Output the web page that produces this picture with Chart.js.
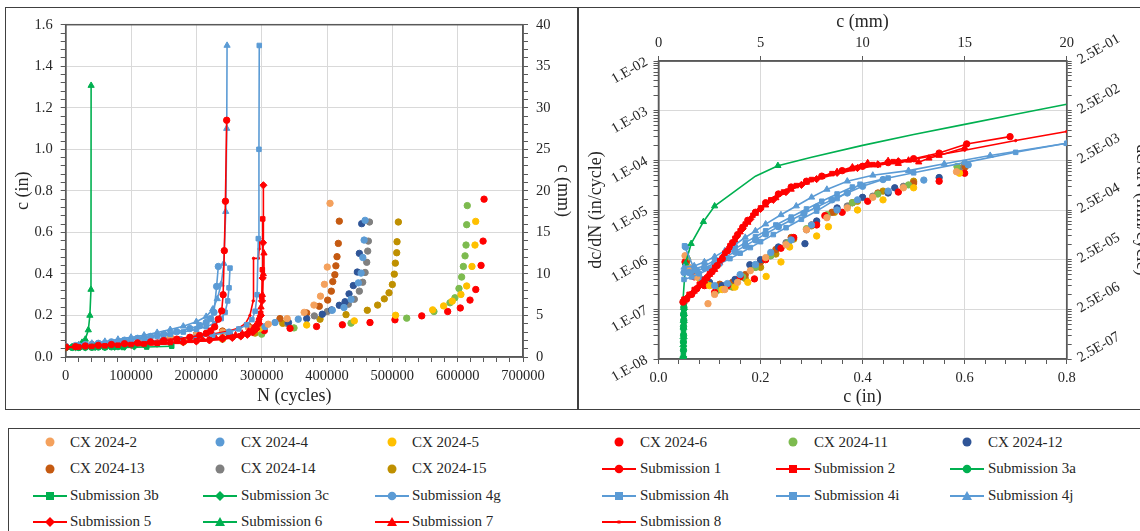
<!DOCTYPE html>
<html><head><meta charset="utf-8">
<script src="https://cdn.jsdelivr.net/npm/chart.js@4.4.1/dist/chart.umd.min.js"></script>
<style>
html,body{margin:0;padding:0;background:#fff;width:1140px;height:531px;overflow:hidden;position:relative;font-family:'Liberation Serif',serif;}
.frame{position:absolute;border:1.5px solid #404040;box-sizing:border-box;}
#leftWrap{position:absolute;left:6px;top:8px;width:571px;height:400px;}
#rightWrap{position:absolute;left:579px;top:8px;width:600px;height:400px;}
.legTxt{position:absolute;font:15px 'Liberation Serif',serif;line-height:16px;color:#262626;white-space:nowrap;}
.legMk{position:absolute;}
</style></head>
<body>
<div class="frame" style="left:5px;top:7px;width:574px;height:403px;"></div>
<div class="frame" style="left:577px;top:7px;width:700px;height:403px;"></div>
<div class="frame" style="left:8px;top:428px;width:1200px;height:200px;"></div>
<div id="leftWrap"><canvas id="left" width="571" height="400"></canvas></div>
<div id="rightWrap"><canvas id="right" width="600" height="400"></canvas></div>
<div id="legend"></div>
<script>
// ================= LEFT CHART DATA: c (in) vs N (cycles) =================
const N_cx2  = [0,40000,80000,120000,160000,200000,240000,280000,310000,339000,365000,380000,390000,396000,400400,404600];
const c_cx2  = [0.05,0.058,0.068,0.08,0.093,0.105,0.12,0.14,0.158,0.185,0.215,0.25,0.293,0.35,0.433,0.74];
const N_cx4  = [0,50000,100000,150000,200000,250000,305000,320400,356000,408100,426000,436800,448000,452200,454800,456800,458300];
const c_cx4  = [0.05,0.06,0.072,0.085,0.1,0.12,0.146,0.166,0.182,0.225,0.238,0.278,0.357,0.404,0.479,0.563,0.658];
const N_cx5  = [0,60000,120000,180000,240000,297000,368900,441800,505000,561700,578500,591700,605000,613800,621900,626500,627600];
const c_cx5  = [0.05,0.056,0.064,0.074,0.088,0.138,0.154,0.174,0.201,0.227,0.246,0.269,0.301,0.342,0.436,0.539,0.653];
const N_cx6  = [0,60000,120000,180000,240000,304000,343400,384000,423500,465800,504000,545000,584700,604000,618900,627700,635800,638900,640400];
const c_cx6  = [0.05,0.056,0.064,0.074,0.09,0.127,0.138,0.147,0.155,0.166,0.179,0.198,0.219,0.236,0.274,0.325,0.441,0.558,0.76];
const N_cx11 = [0,60000,120000,180000,240000,300000,349500,436800,522000,563700,588200,595800,602000,606100,608700,611300,612800,613800,614700];
const c_cx11 = [0.05,0.055,0.062,0.072,0.086,0.11,0.14,0.163,0.187,0.219,0.261,0.285,0.33,0.385,0.436,0.487,0.539,0.637,0.729];
const N_cx12 = [0,50000,100000,150000,200000,250000,300000,341000,368900,392800,407100,418800,427600,433700,440300,446400,449500,453100];
const c_cx12 = [0.05,0.06,0.07,0.082,0.097,0.115,0.14,0.166,0.185,0.206,0.227,0.249,0.266,0.304,0.344,0.409,0.499,0.642];
const N_cx13 = [0,40000,80000,120000,160000,200000,240000,280000,328000,368900,388200,401000,406600,408800,412000,413600,415300,417300,418800];
const c_cx13 = [0.05,0.06,0.07,0.082,0.095,0.108,0.125,0.148,0.185,0.212,0.244,0.274,0.317,0.363,0.396,0.439,0.483,0.547,0.654];
const N_cx14 = [0,50000,100000,150000,200000,250000,300000,340000,380600,400500,432600,441800,449500,454600,458300,460800,462300,463300,465000];
const c_cx14 = [0.05,0.058,0.068,0.08,0.094,0.11,0.135,0.16,0.198,0.219,0.254,0.278,0.317,0.36,0.407,0.456,0.51,0.558,0.65];
const N_cx15 = [0,60000,120000,180000,240000,290000,332200,389300,429100,461700,477500,487700,494900,500000,503000,504600,506700,507200,509200];
const c_cx15 = [0.05,0.057,0.066,0.077,0.092,0.115,0.162,0.182,0.204,0.225,0.25,0.28,0.309,0.349,0.399,0.452,0.502,0.555,0.65];

const N_s1  = [0,15000,30000,50000,70000,90000,110000,130000,150000,170000,190000,205000,215000,222000,228000,233600,238800,241000,242800,244500,246400];
const c_s1  = [0.048,0.05,0.053,0.056,0.06,0.064,0.068,0.073,0.079,0.086,0.095,0.104,0.114,0.126,0.145,0.182,0.222,0.3,0.512,0.75,1.14];
const N_s2  = [0,20000,40000,60000,80000,100000,120000,140000,160000,180000,200000,220000,240000,255000,268000,278000,286000,292000,296000,298500,300200,301000,301600];
const c_s2  = [0.045,0.048,0.051,0.054,0.057,0.06,0.063,0.066,0.07,0.074,0.078,0.083,0.089,0.095,0.102,0.11,0.122,0.14,0.17,0.21,0.29,0.42,0.665];
const N_s3a = [0,10000,20000,30000,40000,50000,60000,70000,80000];
const c_s3a = [0.045,0.046,0.046,0.047,0.047,0.048,0.048,0.049,0.05];
const N_s3b = [0,20000,40000,60000,88000,124000,162300];
const c_s3b = [0.045,0.045,0.046,0.046,0.046,0.048,0.052];
const N_s3c = [0,15000,30000,45000,60000,75000,90000,105000];
const c_s3c = [0.046,0.047,0.047,0.048,0.048,0.049,0.05,0.051];
const N_s4g = [0,15000,30000,50000,70000,90000,110000,130000,150000,170000,190000,205000,215000,222000,227000,231000,233600];
const c_s4g = [0.05,0.055,0.06,0.066,0.073,0.081,0.09,0.099,0.11,0.122,0.137,0.152,0.166,0.185,0.215,0.34,0.436];
const N_s4h = [0,25000,50000,75000,100000,125000,150000,175000,200000,225000,250000,265000,277000,285000,290000,293000,294800,295800,296300];
const c_s4h = [0.05,0.054,0.058,0.063,0.068,0.074,0.08,0.087,0.095,0.106,0.12,0.135,0.155,0.18,0.22,0.3,0.57,1.0,1.5];
const N_s4i = [0,20000,40000,60000,80000,100000,120000,140000,160000,180000,200000,215000,228000,238000,244000,248000,250000,251500];
const c_s4i = [0.05,0.055,0.061,0.067,0.074,0.082,0.09,0.099,0.109,0.12,0.133,0.146,0.162,0.185,0.215,0.27,0.333,0.428];
const N_s4j = [0,20000,40000,60000,80000,100000,120000,140000,160000,180000,200000,215000,225000,232000,238000,242000,245000,246500,247000];
const c_s4j = [0.05,0.058,0.066,0.075,0.085,0.095,0.105,0.118,0.132,0.148,0.17,0.195,0.23,0.28,0.35,0.45,0.7,1.1,1.5];
const N_s5  = [0,20000,40000,60000,80000,100000,120000,140000,160000,180000,200000,220000,240000,255000,268000,278000,286000,292000,296000,298800,300500,301500,302100,302600];
const c_s5  = [0.045,0.047,0.049,0.052,0.055,0.058,0.061,0.064,0.067,0.071,0.075,0.08,0.086,0.092,0.099,0.107,0.118,0.135,0.16,0.2,0.27,0.38,0.55,0.827];
const N_s6  = [0,10000,20000,25000,30000,34600,37000,38700,38900];
const c_s6  = [0.045,0.05,0.058,0.07,0.085,0.13,0.2,0.325,1.307];
const N_s7  = [0,10000,20000,30000,40000,50000,60000,70000,80000,90000,100000,110000,120000,130000,140000,150000,160000,170000,180000,190000,200000,210000,220000,230000,240000,250000,260000,270000,280000,287000,292000,296000,299000,301000,302500,303500];
const c_s7  = [0.045,0.046,0.047,0.048,0.05,0.051,0.053,0.054,0.056,0.057,0.059,0.061,0.063,0.065,0.067,0.069,0.071,0.073,0.075,0.078,0.081,0.084,0.087,0.091,0.095,0.1,0.106,0.114,0.125,0.14,0.16,0.19,0.24,0.3,0.4,0.5];
const N_s8  = [0,25000,50000,75000,100000,125000,150000,175000,200000,225000,250000,265000,275000,282000,287000,287500,295000,296000,297000];
const c_s8  = [0.05,0.054,0.059,0.064,0.07,0.076,0.083,0.09,0.099,0.11,0.125,0.14,0.16,0.2,0.27,0.475,0.475,0.52,0.57];

// ================= RIGHT CHART DATA: dc/dN (in/cycle) vs c (in) =================
const a_cx2  = [0.052,0.06,0.075,0.097,0.11,0.13,0.155,0.18,0.21,0.25,0.29,0.33,0.37,0.42,0.48,0.584];
const r_cx2  = [1.2e-6,7e-7,4.5e-7,1.3e-7,2e-7,2.5e-7,3.5e-7,6e-7,1.1e-6,2e-6,4e-6,7e-6,1.1e-5,1.8e-5,2.8e-5,5.9e-5];
const a_cx4  = [0.053,0.065,0.085,0.11,0.135,0.16,0.19,0.22,0.26,0.3,0.35,0.39,0.45,0.52,0.607];
const r_cx4  = [1.8e-6,6e-7,4e-7,3e-7,3.3e-7,5e-7,8e-7,1.4e-6,2.5e-6,5e-6,1e-5,1.6e-5,2.4e-5,4e-5,8.1e-5];
const a_cx5  = [0.058,0.08,0.1,0.125,0.15,0.175,0.211,0.24,0.257,0.31,0.333,0.39,0.44,0.5,0.59];
const r_cx5  = [6e-7,4.2e-7,3e-7,2.5e-7,2.8e-7,3.5e-7,4.6e-7,9e-7,1.8e-6,3e-6,4.6e-6,1e-5,1.6e-5,2.8e-5,5.5e-5];
const a_cx6  = [0.052,0.07,0.09,0.11,0.135,0.16,0.188,0.21,0.24,0.265,0.31,0.326,0.36,0.41,0.47,0.55,0.6];
const r_cx6  = [9e-7,4.5e-7,3e-7,2.2e-7,3e-7,4.5e-7,4.1e-7,1e-6,1.7e-6,2.8e-6,5e-6,7.7e-6,9e-6,1.5e-5,2.3e-5,3.8e-5,5.5e-5];
const a_cx11 = [0.055,0.072,0.093,0.115,0.14,0.165,0.19,0.22,0.255,0.29,0.33,0.38,0.43,0.49,0.585];
const r_cx11 = [1.1e-6,5e-7,3.3e-7,2.4e-7,2.9e-7,4.5e-7,7e-7,1.2e-6,2.2e-6,4.2e-6,8e-6,1.4e-5,2.1e-5,3.2e-5,7.5e-5];
const a_cx12 = [0.056,0.075,0.1,0.125,0.15,0.179,0.2,0.235,0.287,0.31,0.35,0.4,0.45,0.463,0.55];
const r_cx12 = [7e-7,5e-7,3.5e-7,3e-7,4e-7,7.9e-7,1e-6,1.8e-6,2.1e-6,6e-6,1.1e-5,1.8e-5,2.2e-5,2.8e-5,4.5e-5];
const a_cx13 = [0.055,0.07,0.09,0.12,0.145,0.17,0.2,0.23,0.26,0.3,0.34,0.38,0.43,0.5,0.601];
const r_cx13 = [9e-7,6e-7,4e-7,3.2e-7,3.5e-7,5e-7,9e-7,1.6e-6,2.8e-6,5e-6,9e-6,1.4e-5,2.2e-5,3.5e-5,7.4e-5];
const a_cx14 = [0.054,0.07,0.09,0.115,0.14,0.165,0.19,0.22,0.25,0.29,0.33,0.37,0.42,0.48,0.59];
const r_cx14 = [8e-7,5.5e-7,3.8e-7,2.8e-7,3e-7,4.5e-7,7e-7,1.2e-6,2.2e-6,4e-6,7.5e-6,1.2e-5,1.9e-5,3e-5,7e-5];
const a_cx15 = [0.057,0.072,0.095,0.12,0.145,0.17,0.2,0.23,0.265,0.3,0.345,0.39,0.44,0.5,0.6];
const r_cx15 = [1e-6,5e-7,3.5e-7,2.6e-7,2.8e-7,4.2e-7,7e-7,1.3e-6,2.6e-6,4.8e-6,9e-6,1.5e-5,2.4e-5,3.8e-5,8.5e-5];

const a_s1  = [0.048,0.055,0.065,0.075,0.085,0.095,0.105,0.115,0.125,0.135,0.145,0.155,0.165,0.175,0.19,0.21,0.235,0.26,0.29,0.32,0.36,0.4,0.45,0.5,0.55,0.604,0.689];
const r_s1  = [1.4e-7,1.6e-7,2e-7,2.6e-7,3.3e-7,4.3e-7,5.7e-7,7.6e-7,1.05e-6,1.5e-6,2.2e-6,3.2e-6,4.5e-6,6.2e-6,9e-6,1.4e-5,2.1e-5,2.9e-5,3.8e-5,4.8e-5,6.2e-5,7.6e-5,9e-5,1.08e-4,1.4e-4,2.14e-4,3.0e-4];
const a_s2  = [0.05,0.06,0.07,0.08,0.09,0.1,0.11,0.12,0.13,0.14,0.15,0.16,0.17,0.185,0.2,0.22,0.245,0.27,0.3,0.34,0.38,0.42,0.46,0.5];
const r_s2  = [1.6e-7,2e-7,2.5e-7,3.2e-7,4e-7,5.2e-7,7e-7,9.5e-7,1.35e-6,1.9e-6,2.7e-6,3.8e-6,5.2e-6,7.8e-6,1.1e-5,1.6e-5,2.3e-5,3.1e-5,4.1e-5,5.4e-5,6.8e-5,8.2e-5,9.4e-5,1.05e-4];
const a_s3a = [0.0485,0.049,0.0488,0.0492,0.049,0.0495,0.0493,0.0497];
const r_s3a = [1e-8,1.5e-8,2.2e-8,3e-8,4.5e-8,6e-8,8e-8,1.1e-7];
const a_s3b = [0.0488,0.0491,0.049,0.0494,0.0496,0.0494,0.0499];
const r_s3b = [1.2e-8,2e-8,3.5e-8,5e-8,7e-8,9e-8,1.3e-7];
const a_s3c = [0.0486,0.0489,0.0492,0.049,0.0495,0.0497,0.05];
const r_s3c = [1.1e-8,1.8e-8,2.6e-8,4e-8,5.5e-8,7.5e-8,1e-7];
const a_s4g = [0.05,0.06,0.075,0.09,0.11,0.13,0.15,0.17,0.19,0.21,0.235,0.26,0.285,0.31,0.34,0.37,0.4,0.44];
const r_s4g = [5.5e-7,5.5e-7,6e-7,6.8e-7,8.5e-7,1.1e-6,1.45e-6,1.9e-6,2.5e-6,3.3e-6,4.6e-6,6.3e-6,8.5e-6,1.15e-5,1.6e-5,2.2e-5,3e-5,4.1e-5];
const a_s4h = [0.05,0.065,0.08,0.1,0.12,0.14,0.16,0.18,0.2,0.225,0.25,0.28,0.31,0.35,0.395,0.45,0.5,0.6,0.7,0.8];
const r_s4h = [4e-7,4.5e-7,5.2e-7,6.5e-7,8.3e-7,1.05e-6,1.35e-6,1.75e-6,2.3e-6,3.2e-6,4.4e-6,6.5e-6,9.5e-6,1.7e-5,3.3e-5,4.4e-5,5.6e-5,9e-5,1.45e-4,2.2e-4];
const a_s4i = [0.051,0.07,0.09,0.11,0.13,0.15,0.17,0.19,0.21,0.23,0.26,0.29,0.32,0.35,0.38];
const r_s4i = [1.9e-6,6.5e-7,7.5e-7,9.5e-7,1.25e-6,1.65e-6,2.2e-6,2.9e-6,3.8e-6,5e-6,7.2e-6,1.05e-5,1.5e-5,2.1e-5,2.9e-5];
const a_s4j = [0.05,0.07,0.09,0.11,0.13,0.15,0.17,0.19,0.21,0.24,0.27,0.3,0.33,0.37,0.42,0.49,0.56,0.65,0.8];
const r_s4j = [7e-7,7.5e-7,9e-7,1.15e-6,1.5e-6,2e-6,2.8e-6,3.8e-6,5.2e-6,8e-6,1.2e-5,1.8e-5,2.6e-5,3.8e-5,5e-5,6.2e-5,8.5e-5,1.25e-4,2.2e-4];
const a_s5  = [0.049,0.058,0.068,0.078,0.088,0.098,0.108,0.118,0.128,0.14,0.152,0.165,0.18,0.2,0.225,0.25,0.28,0.31,0.35,0.39,0.43,0.47];
const r_s5  = [1.5e-7,1.8e-7,2.2e-7,2.8e-7,3.6e-7,4.8e-7,6.4e-7,8.7e-7,1.2e-6,1.8e-6,2.8e-6,4.2e-6,6.5e-6,1.05e-5,1.6e-5,2.3e-5,3.2e-5,4.2e-5,5.6e-5,7e-5,8.3e-5,9.6e-5];
const a_s6  = [0.048,0.053,0.064,0.088,0.11,0.15,0.19,0.234,0.3,0.4,0.5,0.6,0.7,0.8];
const r_s6  = [1.5e-7,8.5e-7,2.1e-6,5.8e-6,1.2e-5,2.4e-5,4.8e-5,7.8e-5,1.15e-4,2.0e-4,3.3e-4,5.3e-4,8.5e-4,1.35e-3];
const a_s7  = [0.05,0.06,0.07,0.08,0.09,0.1,0.11,0.12,0.13,0.14,0.15,0.16,0.175,0.19,0.21,0.23,0.26,0.29,0.32,0.35,0.38,0.41,0.43,0.45,0.47,0.49,0.51,0.53,0.55,0.6];
const r_s7  = [1.4e-7,1.9e-7,2.3e-7,3e-7,3.7e-7,5e-7,6.3e-7,8.8e-7,1.2e-6,1.75e-6,2.4e-6,3.6e-6,5.6e-6,8.5e-6,1.25e-5,1.75e-5,2.6e-5,3.6e-5,4.7e-5,5.9e-5,7.3e-5,8.9e-5,8e-5,9.8e-5,8.6e-5,1.0e-4,9.2e-5,1.1e-4,1.25e-4,1.8e-4];
const a_s8  = [0.05,0.07,0.09,0.11,0.13,0.15,0.17,0.2,0.25,0.3,0.35,0.4,0.5,0.6,0.7,0.8];
const r_s8  = [1.5e-7,2.3e-7,3.7e-7,6.5e-7,1.25e-6,2.6e-6,5e-6,1.1e-5,2.4e-5,3.9e-5,5.4e-5,7e-5,1.05e-4,1.6e-4,2.5e-4,3.8e-4];

// ================= TICK LABELS =================
const nTickLabels    = ['0','100000','200000','300000','400000','500000','600000','700000'];
const cInTickLabels  = ['0.0','0.2','0.4','0.6','0.8','1.0','1.2','1.4','1.6'];
const cMmTickLabels  = ['0','5','10','15','20','25','30','35','40'];
const aInTickLabels  = ['0.0','0.2','0.4','0.6','0.8'];
const aMmTickLabels  = ['0','5','10','15','20'];
const rateInTickLabels = ['1.E-08','1.E-07','1.E-06','1.E-05','1.E-04','1.E-03','1.E-02'];
const rateMmTickLabels = ['2.5E-07','2.5E-06','2.5E-05','2.5E-04','2.5E-03','2.5E-02','2.5E-01'];

// ================= SERIES =================
const seriesNames = ['CX 2024-2','CX 2024-4','CX 2024-5','CX 2024-6','CX 2024-11','CX 2024-12',
  'CX 2024-13','CX 2024-14','CX 2024-15','Submission 1','Submission 2','Submission 3a',
  'Submission 3b','Submission 3c','Submission 4g','Submission 4h','Submission 4i','Submission 4j',
  'Submission 5','Submission 6','Submission 7','Submission 8'];
const leftSeries = [[N_cx2,c_cx2],[N_cx4,c_cx4],[N_cx5,c_cx5],[N_cx6,c_cx6],[N_cx11,c_cx11],[N_cx12,c_cx12],
  [N_cx13,c_cx13],[N_cx14,c_cx14],[N_cx15,c_cx15],[N_s1,c_s1],[N_s2,c_s2],[N_s3a,c_s3a],
  [N_s3b,c_s3b],[N_s3c,c_s3c],[N_s4g,c_s4g],[N_s4h,c_s4h],[N_s4i,c_s4i],[N_s4j,c_s4j],
  [N_s5,c_s5],[N_s6,c_s6],[N_s7,c_s7],[N_s8,c_s8]];
const rightSeries = [[a_cx2,r_cx2],[a_cx4,r_cx4],[a_cx5,r_cx5],[a_cx6,r_cx6],[a_cx11,r_cx11],[a_cx12,r_cx12],
  [a_cx13,r_cx13],[a_cx14,r_cx14],[a_cx15,r_cx15],[a_s1,r_s1],[a_s2,r_s2],[a_s3a,r_s3a],
  [a_s3b,r_s3b],[a_s3c,r_s3c],[a_s4g,r_s4g],[a_s4h,r_s4h],[a_s4i,r_s4i],[a_s4j,r_s4j],
  [a_s5,r_s5],[a_s6,r_s6],[a_s7,r_s7],[a_s8,r_s8]];

// styles
const RED='#FF0000', GRN='#00B050', BLU='#5B9BD5';
const styles = [
  {color:'#F4A15D',kind:'dot'},{color:'#5B9BD5',kind:'dot'},{color:'#FFC000',kind:'dot'},
  {color:'#FF0000',kind:'dot'},{color:'#7DBB4F',kind:'dot'},{color:'#2F5597',kind:'dot'},
  {color:'#C55A11',kind:'dot'},{color:'#808080',kind:'dot'},{color:'#BF9000',kind:'dot'},
  {color:RED,kind:'line',marker:'circle'},{color:RED,kind:'line',marker:'rect'},{color:GRN,kind:'line',marker:'circle'},
  {color:GRN,kind:'line',marker:'rect'},{color:GRN,kind:'line',marker:'rectRot'},{color:BLU,kind:'line',marker:'circle'},
  {color:BLU,kind:'line',marker:'rect'},{color:BLU,kind:'line',marker:'rect'},{color:BLU,kind:'line',marker:'triangle'},
  {color:RED,kind:'line',marker:'rectRot'},{color:GRN,kind:'line',marker:'triangle'},{color:RED,kind:'line',marker:'triangle'},
  {color:RED,kind:'line',marker:'none'}
];

const xy = (xs, ys) => xs.map((x, i) => ({x: x, y: ys[i]}));
function markerRadius(st){ if (st.marker==='none') return 1.2; if (st.marker==='rect') return 3.2; if (st.marker==='rectRot') return 3.6; if (st.marker==='triangle') return 3.6; return 3.2; }
function makeDatasets(src, isRight){
  return seriesNames.map((name, i) => {
    const st = styles[i];
    const d = {label:name, data: xy(src[i][0], src[i][1]), order: st.kind==='dot' ? 2 : 1};
    if (st.kind === 'dot') {
      Object.assign(d, {showLine:false, pointStyle:'circle', pointRadius:3.2, pointBackgroundColor:st.color, pointBorderColor:st.color, pointBorderWidth:1});
    } else {
      let rad = markerRadius(st);
      if (isRight && name === 'Submission 6') {
        rad = ctx => (ctx.raw && (ctx.raw.x <= 0.111 || (ctx.raw.x > 0.2 && ctx.raw.x < 0.25))) ? 3.6 : 0;
      }
      Object.assign(d, {showLine:true, borderColor:st.color, borderWidth:1.6, pointStyle: st.marker==='none' ? 'circle' : st.marker,
        pointRadius: rad, pointBackgroundColor:st.color, pointBorderColor:st.color, pointBorderWidth:1, tension:0});
    }
    return d;
  });
}

// ================= SHARED STYLE =================
const FAM = "'Liberation Serif', serif";
const tickFont = {family:FAM, size:14.5};
const titleFont = {family:FAM, size:18};
const gridCol = '#D9D9D9', axisCol = '#595959', txtCol = '#262626', NONE = 'rgba(0,0,0,0)';
const plotFrame = {id:'plotFrame', beforeDatasetsDraw(chart){
  const a = chart.chartArea, c = chart.ctx; c.save(); c.strokeStyle = axisCol; c.lineWidth = 1.5;
  c.strokeRect(a.left, a.top, a.right - a.left, a.bottom - a.top); c.restore(); }};
const linTicks = (n, step) => Array.from({length:n+1}, (_, k) => ({value: Math.round(k*step*1e6)/1e6}));
const logTicks = () => { const t = []; for (let e=-8; e<-2; e++) for (let m=1; m<10; m++) t.push({value: parseFloat((m*Math.pow(10,e)).toPrecision(3))}); t.push({value:1e-2}); return t; };
const isDecade = v => Math.abs(Math.log10(v) - Math.round(Math.log10(v))) < 1e-6;

// ================= LEFT CHART =================
new Chart(document.getElementById('left'), {
  type:'scatter',
  data:{datasets: makeDatasets(leftSeries, false)},
  options:{
    responsive:false, animation:false, devicePixelRatio:1,
    layout:{padding:{top:12,left:0,right:0,bottom:0}},
    plugins:{legend:{display:false}, tooltip:{enabled:false}},
    scales:{
      x:{type:'linear', position:'bottom', min:0, max:700000,
        afterBuildTicks: s => { s.ticks = linTicks(35, 20000); },
        ticks:{autoSkip:false, maxRotation:0, minRotation:0, padding:5, color:txtCol, font:tickFont,
          callback: v => { const k = Math.round(v/20000); return k%5===0 ? nTickLabels[k/5] : ''; }},
        grid:{color: c => (c.tick && Math.round(c.tick.value/20000)%5===0) ? gridCol : NONE, tickColor:axisCol, tickLength:5, lineWidth:1},
        border:{color:axisCol, width:1.5},
        title:{display:true, text:'N (cycles)', font:titleFont, color:txtCol, padding:{top:0,bottom:1}},
        afterFit: s => { s.height = 51; }},
      y:{type:'linear', position:'left', min:0, max:1.6,
        afterBuildTicks: s => { s.ticks = linTicks(40, 0.04); },
        ticks:{autoSkip:false, padding:8, color:txtCol, font:tickFont,
          callback: v => { const k = Math.round(v/0.04); return k%5===0 ? cInTickLabels[k/5] : ''; }},
        grid:{color: c => (c.tick && Math.round(c.tick.value/0.04)%5===0) ? gridCol : NONE, tickColor:axisCol, tickLength:5, lineWidth:1},
        border:{color:axisCol, width:1.5},
        title:{display:true, text:'c (in)', font:titleFont, color:txtCol, padding:{top:6,bottom:0}},
        afterFit: s => { s.width = 59.7; }},
      y2:{type:'linear', position:'right', min:0, max:40,
        afterBuildTicks: s => { s.ticks = linTicks(40, 1); },
        ticks:{autoSkip:false, padding:8, color:txtCol, font:tickFont,
          callback: v => { const k = Math.round(v); return k%5===0 ? cMmTickLabels[k/5] : ''; }},
        grid:{drawOnChartArea:false, color:axisCol, tickColor:axisCol, tickLength:5},
        border:{color:axisCol, width:1.5},
        title:{display:true, text:'c (mm)', font:titleFont, color:txtCol, padding:{top:3,bottom:0}},
        afterFit: s => { s.width = 54; }}
    }
  },
  plugins:[plotFrame]
});

// ================= RIGHT CHART =================
new Chart(document.getElementById('right'), {
  type:'scatter',
  data:{datasets: makeDatasets(rightSeries, true)},
  options:{
    responsive:false, animation:false, devicePixelRatio:1,
    layout:{padding:0},
    plugins:{legend:{display:false}, tooltip:{enabled:false}},
    scales:{
      x:{type:'linear', position:'bottom', min:0, max:0.8,
        afterBuildTicks: s => { s.ticks = linTicks(20, 0.04); },
        ticks:{autoSkip:false, maxRotation:0, minRotation:0, padding:5, color:txtCol, font:tickFont,
          callback: v => { const k = Math.round(v/0.04); return k%5===0 ? aInTickLabels[k/5] : ''; }},
        grid:{color: c => (c.tick && Math.round(c.tick.value/0.04)%5===0) ? gridCol : NONE, tickColor:axisCol, tickLength:5, lineWidth:1},
        border:{color:axisCol, width:1.5},
        title:{display:true, text:'c (in)', font:titleFont, color:txtCol, padding:{top:0,bottom:0}},
        afterFit: s => { s.height = 49; }},
      x2:{type:'linear', position:'top', min:0, max:20,
        afterBuildTicks: s => { s.ticks = linTicks(4, 5); },
        ticks:{autoSkip:false, maxRotation:0, minRotation:0, padding:4, color:txtCol, font:tickFont,
          callback: v => aMmTickLabels[Math.round(v/5)]},
        grid:{drawOnChartArea:false, color:axisCol, tickColor:axisCol, tickLength:5},
        border:{color:axisCol, width:1.5},
        title:{display:true, text:'c (mm)', font:titleFont, color:txtCol, padding:{top:3,bottom:0}},
        afterFit: s => { s.height = 53; }},
      y:{type:'logarithmic', position:'left', min:1e-8, max:1e-2,
        afterBuildTicks: s => { s.ticks = logTicks(); },
        ticks:{autoSkip:false, minRotation:30, maxRotation:30, padding:7, color:txtCol, font:tickFont,
          callback: v => isDecade(v) ? rateInTickLabels[Math.round(Math.log10(v))+8] : ''},
        grid:{color: c => (c.tick && isDecade(c.tick.value)) ? gridCol : NONE, tickColor:axisCol, tickLength:5, lineWidth:1},
        border:{color:axisCol, width:1.5},
        title:{display:true, text:'dc/dN (in/cycle)', font:titleFont, color:txtCol, padding:{top:6,bottom:0}},
        afterFit: s => { s.width = 79.5; }},
      y2:{type:'logarithmic', position:'right', min:1e-8, max:1e-2,
        afterBuildTicks: s => { s.ticks = logTicks(); },
        ticks:{autoSkip:false, minRotation:30, maxRotation:30, padding:7, color:txtCol, font:tickFont,
          callback: v => isDecade(v) ? rateMmTickLabels[Math.round(Math.log10(v))+8] : ''},
        grid:{drawOnChartArea:false, color:axisCol, tickColor:axisCol, tickLength:5},
        border:{color:axisCol, width:1.5},
        title:{display:true, text:'dc/dN (mm/cycle)', font:titleFont, color:txtCol, padding:{top:26,bottom:0}},
        afterFit: s => { s.width = 112.3; }}
    }
  },
  plugins:[plotFrame]
});

// ================= LEGEND (HTML) =================
(function(){
  const colX = [50,220,392,619,793,967];
  const txtX = [70,241,412,640,814,988];
  const rowY = [442,468.5,495.5,521.5];
  const leg = document.getElementById('legend');
  function shape(st, cx, cy){
    const c = st.color;
    switch(st.marker){
      case 'rect': return `<rect x="${cx-4}" y="${cy-4}" width="8" height="8" fill="${c}"/>`;
      case 'rectRot': return `<polygon points="${cx},${cy-5} ${cx+5},${cy} ${cx},${cy+5} ${cx-5},${cy}" fill="${c}"/>`;
      case 'triangle': return `<polygon points="${cx},${cy-5} ${cx+5},${cy+4} ${cx-5},${cy+4}" fill="${c}"/>`;
      case 'none': return `<rect x="${cx-1.5}" y="${cy-1.5}" width="3" height="3" fill="${c}"/>`;
      default: return `<circle cx="${cx}" cy="${cy}" r="4.3" fill="${c}"/>`;
    }
  }
  seriesNames.forEach((name, i) => {
    const st = styles[i], col = i % 6, row = Math.floor(i / 6);
    const cx = colX[col], cy = rowY[row];
    let svg = `<svg class="legMk" width="36" height="14" style="left:${cx-18}px;top:${cy-7}px" viewBox="0 0 36 14">`;
    if (st.kind === 'dot') svg += `<circle cx="18" cy="7" r="4.5" fill="${st.color}"/>`;
    else svg += `<line x1="1" y1="7" x2="35" y2="7" stroke="${st.color}" stroke-width="2"/>` + shape(st, 18, 7);
    svg += '</svg>';
    leg.insertAdjacentHTML('beforeend', svg + `<div class="legTxt" style="left:${txtX[col]}px;top:${cy-8.5}px">${name}</div>`);
  });
})();
</script>
</body></html>
